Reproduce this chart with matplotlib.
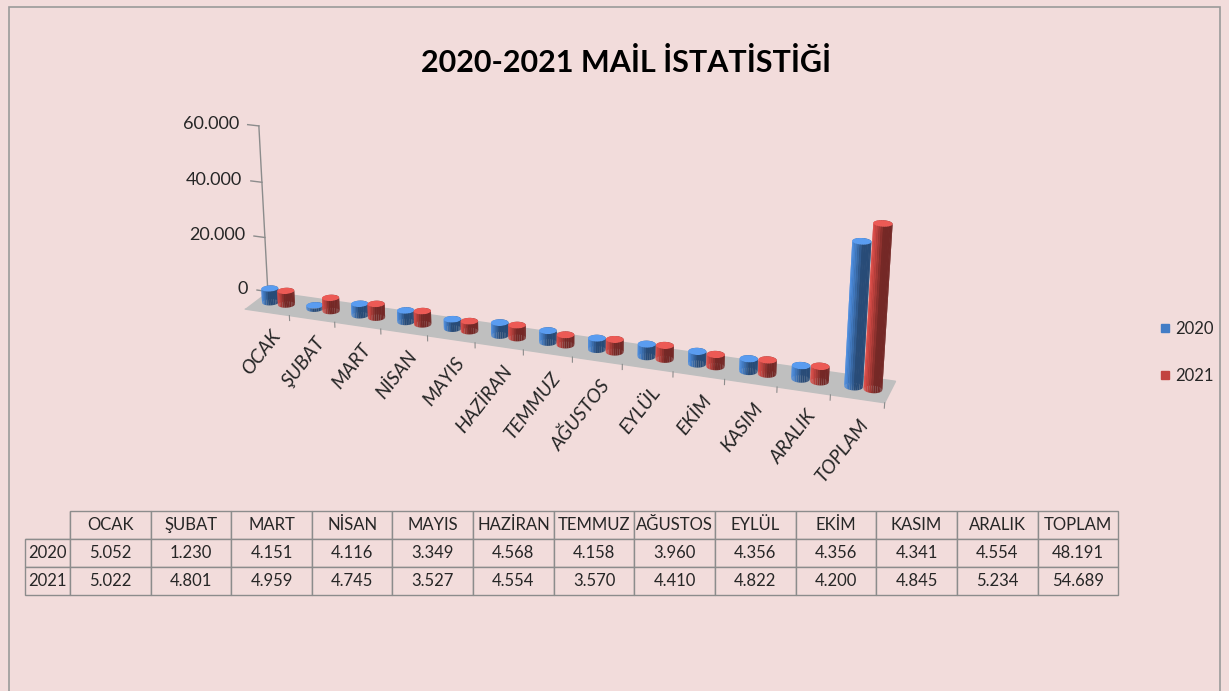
import numpy as np
import matplotlib.pyplot as plt
import matplotlib.patches as mpatches
from matplotlib.lines import Line2D
from mpl_toolkits.mplot3d import proj3d
from mpl_toolkits.mplot3d.art3d import Poly3DCollection
from matplotlib.colors import to_rgb

plt.rcParams["font.family"] = ["Lato", "DejaVu Sans"]

categories = ["OCAK", "ŞUBAT", "MART", "NİSAN", "MAYIS", "HAZİRAN", "TEMMUZ",
              "AĞUSTOS", "EYLÜL", "EKİM", "KASIM", "ARALIK", "TOPLAM"]
years = ["2020", "2021"]
mail_2020 = [5052, 1230, 4151, 4116, 3349, 4568, 4158, 3960, 4356, 4356, 4341, 4554, 48191]
mail_2021 = [5022, 4801, 4959, 4745, 3527, 4554, 3570, 4410, 4822, 4200, 4845, 5234, 54689]
value_ticks = [0, 20000, 40000, 60000]

BG = "#F2DCDB"
BLUE = "#437DC6"
RED = "#C2433F"
TEXT = "#262626"
AXIS = "#8C8C8C"


def fmt(v):
    return f"{int(v):,}".replace(",", ".")


def cylinder_polys(cx, cy, h, r, color, n=28, light=np.deg2rad(200)):
    """side facets + top cap of one column, with simple shading"""
    base = np.array(to_rgb(color))
    t = np.linspace(0, 2 * np.pi, n + 1)
    polys, cols = [], []
    for a0, a1 in zip(t[:-1], t[1:]):
        p0 = (cx + r * np.cos(a0), cy + r * np.sin(a0))
        p1 = (cx + r * np.cos(a1), cy + r * np.sin(a1))
        polys.append([(*p0, 0), (*p1, 0), (*p1, h), (*p0, h)])
        k = 0.6 + 0.55 * max(0.0, np.cos((a0 + a1) / 2 - light))
        cols.append(np.clip(base * k, 0, 1))
    polys.append([(cx + r * np.cos(a), cy + r * np.sin(a), h) for a in t[:-1]])
    cols.append(np.clip(base * 1.15 + 0.05, 0, 1))
    return polys, cols


fig = plt.figure(figsize=(12.29, 6.91), dpi=100, facecolor=BG)
fig.patches.append(mpatches.Rectangle((0.007, -0.01), 0.986, 1.0, transform=fig.transFigure,
                                      fill=False, edgecolor="#9A9A9A", lw=1.2))

fig.text(0.509, 0.91, "2020-2021 MAİL İSTATİSTİĞİ", ha="center", va="center",
         fontsize=22, fontweight="bold", color="black")

# 3D clustered columns (square axes so nothing gets clipped)
ax = fig.add_axes([0.035, -0.116, 0.814, 1.447], projection="3d", facecolor="none")
ax.set_proj_type("persp", focal_length=0.38)
ax.view_init(elev=21, azim=-70)

x = np.arange(len(categories))
r = 0.17
polys, cols = [], []
for i in x:
    for dx, vals, c in ((-0.18, mail_2020, BLUE), (0.18, mail_2021, RED)):
        p, col = cylinder_polys(i + dx, 0.5, vals[i], r, c)
        polys += p
        cols += col
bars = Poly3DCollection(polys, facecolors=cols, edgecolors="none")
ax.add_collection3d(bars)

ax.set_xlim(-0.5, len(x) - 0.5)
ax.set_ylim(0, 1)
ax.set_zlim(0, value_ticks[-1])
ax.set_box_aspect((4.2, 4.2 / len(x), 1.15), zoom=0.69)

ax.set_xticks([])
ax.set_yticks([])
ax.set_zticks([])
ax.grid(False)
ax.xaxis.set_pane_color((1, 1, 1, 0))
ax.yaxis.set_pane_color((1, 1, 1, 0))
ax.zaxis.set_pane_color((0.75, 0.75, 0.75, 1.0))
for a in (ax.xaxis, ax.yaxis, ax.zaxis):
    a.line.set_color((0, 0, 0, 0))

# value axis at the far end of the floor
ax.plot([-0.5, -0.5], [1, 1], [0, value_ticks[-1]], color=AXIS, lw=1)
for v in value_ticks:
    ax.plot([-0.75, -0.5], [1, 1], [v, v], color=AXIS, lw=1)
    ax.text(-0.95, 1, v, fmt(v), ha="right", va="center", fontsize=13, color=TEXT)
for i in x:
    ax.plot([i + 0.5, i + 0.5], [0, 0], [0, -1800], color=AXIS, lw=0.8)

for art in ax.collections + ax.lines:
    art.set_clip_on(False)

# rotated category labels placed through the 3D projection
fig.canvas.draw()
for i, name in enumerate(categories):
    px, py, _ = proj3d.proj_transform(i + 0.05, 0, -5500, ax.M)
    ax.text2D(px, py, name, transform=ax.transData, rotation=52, rotation_mode="anchor",
              ha="right", va="top", fontsize=14, fontstyle="italic", color=TEXT, clip_on=False)

handles = [Line2D([], [], marker="s", ls="none", color=c, markersize=6, label=y)
           for c, y in zip([BLUE, RED], years)]
fig.legend(handles=handles, loc="center left", bbox_to_anchor=(0.941, 0.49), frameon=False,
           fontsize=12, handletextpad=0.1, labelspacing=1.9, labelcolor=TEXT,
           borderpad=0, borderaxespad=0, handlelength=1.0)

# data table
tax = fig.add_axes([0.0203, 0.139, 0.8895, 0.122])
tax.axis("off")
cell_text = [[""] + categories,
             [years[0]] + [fmt(v) for v in mail_2020],
             [years[1]] + [fmt(v) for v in mail_2021]]
first_w = 0.0412
col_w = [first_w] + [(1 - first_w) / len(categories)] * len(categories)
table = tax.table(cellText=cell_text, colWidths=col_w, cellLoc="center", bbox=[0, 0, 1, 1])
table.auto_set_font_size(False)
for (rr, c), cell in table.get_celld().items():
    cell.set_facecolor(BG)
    cell.set_edgecolor(AXIS)
    cell.set_linewidth(1.0)
    cell.PAD = 0.02
    cell.get_text().set_fontsize(12)
    cell.get_text().set_color(TEXT)
    if rr == 0 and c == 0:
        cell.visible_edges = "BR"

fig.savefig("out.png", dpi=100, facecolor=BG)
